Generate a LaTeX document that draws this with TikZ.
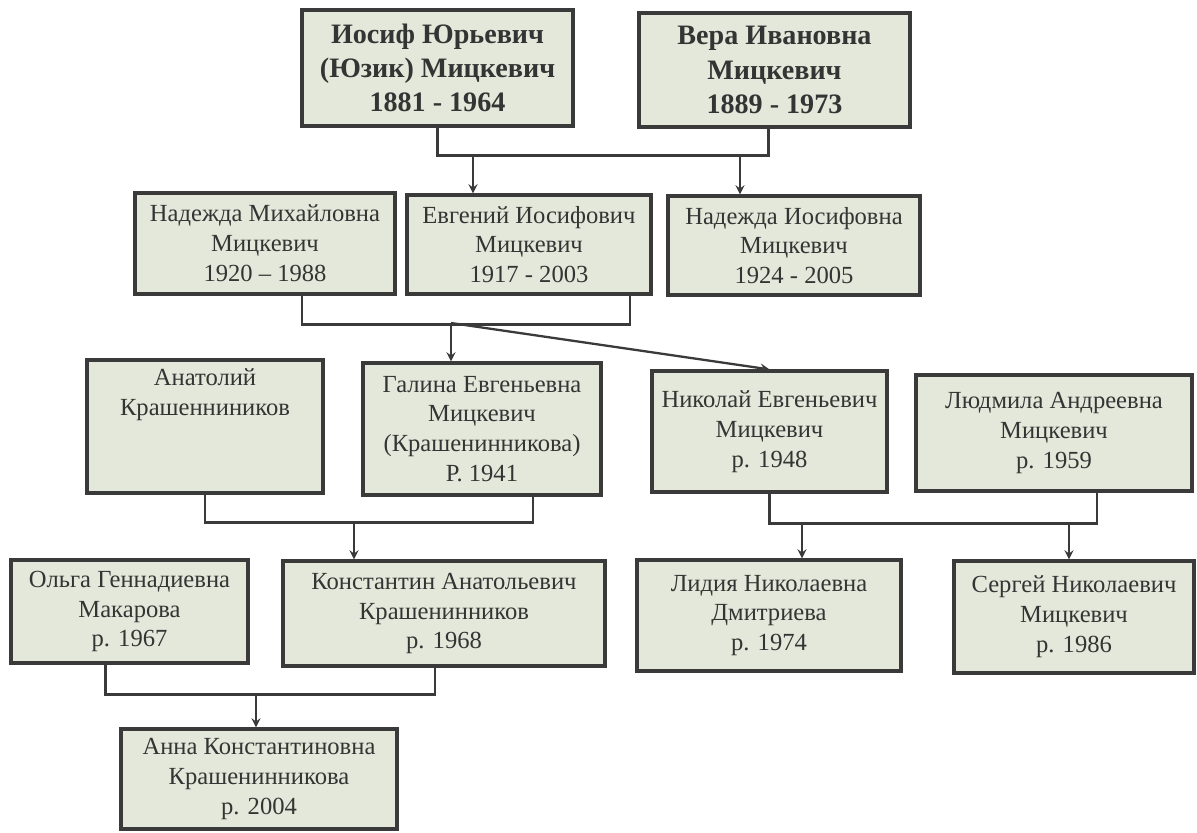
\documentclass[tikz,border=0pt]{standalone}
\usepackage{fontspec}
\setmainfont{Liberation Serif}
\usepackage{tikz}
\usepackage{xcolor}
\usetikzlibrary{arrows, calc, positioning}
\definecolor{treefill}{RGB}{228, 232, 218}
\definecolor{treeborder}{RGB}{58, 58, 58}
\definecolor{treetext}{RGB}{52, 52, 52}

\begin{document}
\begin{tikzpicture}[
    x=0.02cm, y=-0.02cm,
    person/.style={
        rectangle,
        draw=treeborder,
        fill=treefill,
        line width=1.8pt,
        align=center,
        inner sep=2pt,
        text=treetext,
        font=\fontsize{14}{17}\selectfont
    },
    elder/.style={
        person,
        font=\fontsize{16}{19.5}\selectfont\bfseries
    },
    couple/.style={
        line width=1.3pt,
        treeborder
    },
    childarrow/.style={
        ->,
        >=stealth,
        line width=1.3pt,
        treeborder
    }
]

% Page
\useasboundingbox[fill=white] (0,0) rectangle (1197,832);

% First generation
\node[elder, minimum width=5.42cm, minimum height=2.32cm] (iosif) at (437.5,68) {Иосиф Юрьевич\\(Юзик) Мицкевич\\1881 - 1964};
\node[elder, minimum width=5.42cm, minimum height=2.28cm] (vera) at (774.5,70) {Вера Ивановна\\Мицкевич\\1889 - 1973};

% Second generation
\node[person, minimum width=5.20cm, minimum height=2.02cm] (nadM) at (265,243.5) {Надежда Михайловна\\Мицкевич\\1920 – 1988};
\node[person, minimum width=4.88cm, minimum height=1.98cm] (evg) at (529,244.5) {Евгений Иосифович\\Мицкевич\\1917 - 2003};
\node[person, minimum width=5.04cm, minimum height=1.98cm] (nadI) at (794,245.5) {Надежда Иосифовна\\Мицкевич\\1924 - 2005};

% Third generation
\node[person, minimum width=4.72cm, minimum height=2.66cm] (anat) at (205,426.5) {Анатолий\\Крашенниников\\\strut\\\strut};
\node[person, minimum width=4.76cm, minimum height=2.64cm] (gal) at (482,429) {Галина Евгеньевна\\Мицкевич\\(Крашенинникова)\\Р. 1941};
\node[person, minimum width=4.70cm, minimum height=2.42cm] (nik) at (769.5,431.5) {Николай Евгеньевич\\Мицкевич\\р. 1948};
\node[person, minimum width=5.52cm, minimum height=2.32cm] (lyud) at (1054,433) {Людмила Андреевна\\Мицкевич\\р. 1959};

% Fourth generation
\node[person, minimum width=4.74cm, minimum height=2.06cm] (olga) at (129.5,611.5) {Ольга Геннадиевна\\Макарова\\р. 1967};
\node[person, minimum width=6.44cm, minimum height=2.10cm] (konst) at (444,613.5) {Константин Анатольевич\\Крашенинников\\р. 1968};
\node[person, minimum width=5.28cm, minimum height=2.22cm] (lid) at (769,615.5) {Лидия Николаевна\\Дмитриева\\р. 1974};
\node[person, minimum width=4.80cm, minimum height=2.24cm] (serg) at (1074,617) {Сергей Николаевич\\Мицкевич\\р. 1986};

% Fifth generation
\node[person, minimum width=5.52cm, minimum height=2.00cm] (anna) at (259,779) {Анна Константиновна\\Крашенинникова\\р. 2004};

% Couples
\draw[couple] (iosif.south) -- ++(0,28) -| ($(vera.south)+(-6,0)$);
\draw[couple] ($(nadM.south)+(37,0)$) -- ++(0,29) -| ($(evg.south)+(101,0)$);
\draw[couple] (anat.south) -- ++(0,28) -| ($(gal.south)+(51,0)$);
\draw[couple] (nik.south) -- ++(0,30) -| ($(lyud.south)+(43,0)$);
\draw[couple] ($(olga.south)+(-24,0)$) -- ++(0,30) -| ($(konst.south)+(-9,0)$);

% Children
\coordinate (k1) at (473,154);
\coordinate (k2) at (740,154);
\coordinate (k3) at (451,323);
\coordinate (k4) at (354,521);
\coordinate (k5) at (802,522);
\coordinate (k6) at (1069,522);
\coordinate (k7) at (256,693);

\draw[childarrow] (k1) -- (k1 |- evg.north);
\draw[childarrow] (k2) -- (k2 |- nadI.north);
\draw[childarrow] (k3) -- (k3 |- gal.north);
\draw[childarrow] (k3) -- (nik.north);
\draw[childarrow] (k4) -- (k4 |- konst.north);
\draw[childarrow] (k5) -- (k5 |- lid.north);
\draw[childarrow] (k6) -- (k6 |- serg.north);
\draw[childarrow] (k7) -- (k7 |- anna.north);

\end{tikzpicture}
\end{document}
